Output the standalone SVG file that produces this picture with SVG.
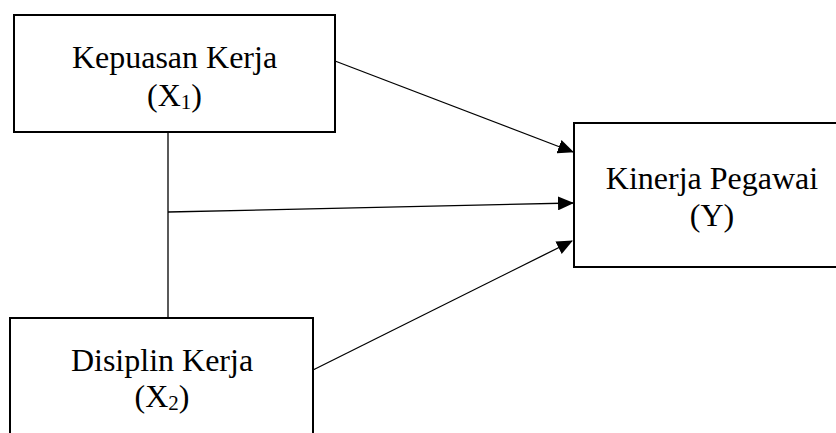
<svg xmlns="http://www.w3.org/2000/svg" width="836" height="433" viewBox="0 0 836 433">
<style>
.box{fill:#fff;stroke:#000;stroke-width:2}
.lbl{font-family:"Liberation Serif","Times New Roman",serif;font-size:32px;fill:#000;text-anchor:middle}
.sub{font-size:21px}
.conn{stroke:#000;stroke-width:1.3;fill:none}
</style>
<defs>
<marker id="ah" markerWidth="16" markerHeight="14" refX="15" refY="7" orient="auto" markerUnits="userSpaceOnUse">
<path d="M0,0 L16,7 L0,14 Z" fill="#000"/>
</marker>
</defs>
<rect width="836" height="433" fill="#fff"/>
<g id="connectors">
<line class="conn" x1="168" y1="132" x2="168" y2="318"/>
<line class="conn" x1="335" y1="61" x2="573" y2="152" marker-end="url(#ah)"/>
<line class="conn" x1="168" y1="212" x2="573" y2="203" marker-end="url(#ah)"/>
<line class="conn" x1="313" y1="370" x2="572" y2="241" marker-end="url(#ah)"/>
</g>
<g id="node-x1">
<rect class="box" x="14" y="15" width="321" height="117"/>
<text class="lbl" x="174.5" y="68">Kepuasan Kerja</text>
<text class="lbl" x="174.5" y="106">(X<tspan class="sub" dy="3">1</tspan><tspan dy="-3">)</tspan></text>
</g>
<g id="node-y">
<rect class="box" x="574" y="123" width="270" height="144"/>
<text class="lbl" x="712" y="189">Kinerja Pegawai</text>
<text class="lbl" x="712" y="226">(Y)</text>
</g>
<g id="node-x2">
<rect class="box" x="10" y="318" width="303" height="130"/>
<text class="lbl" x="162" y="371">Disiplin Kerja</text>
<text class="lbl" x="162" y="407">(X<tspan class="sub" dy="3">2</tspan><tspan dy="-3">)</tspan></text>
</g>
</svg>
